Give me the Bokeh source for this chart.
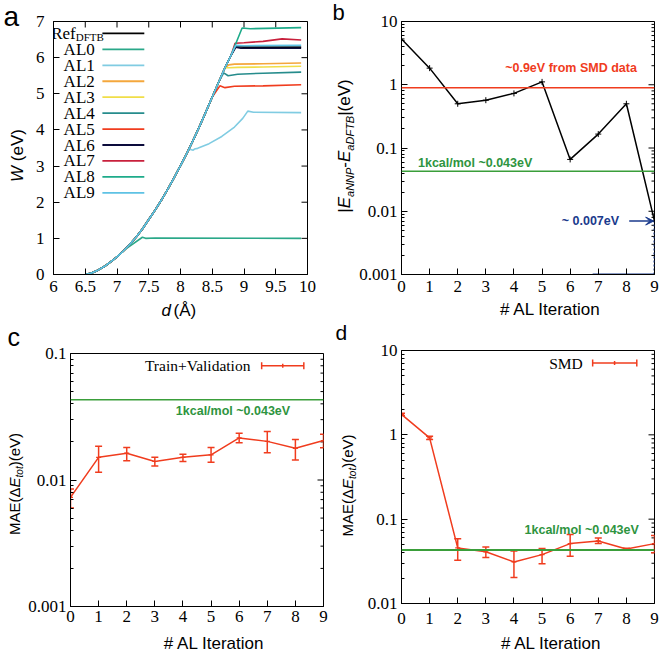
import math
from bokeh.plotting import figure
from bokeh.models import (Range1d, Label, Arrow, VeeHead, FixedTicker,
                          CustomJSTickFormatter, Span)
from bokeh.layouts import row, column
from bokeh.embed import file_html
from bokeh.resources import INLINE

# ---------------- data ----------------
# Panel a: shared rising part of the W(d) curves
REF_D = [6.50, 6.60, 6.70, 6.80, 6.90, 7.00, 7.10, 7.20, 7.30, 7.40, 7.50, 7.60,
         7.70, 7.80, 7.90, 8.00, 8.10, 8.20, 8.30, 8.40, 8.50, 8.60, 8.70, 8.80, 8.87]
REF_W = [0.00, 0.04, 0.12, 0.22, 0.35, 0.49, 0.65, 0.83, 1.03, 1.26, 1.52, 1.78,
         2.06, 2.36, 2.68, 3.01, 3.35, 3.72, 4.10, 4.50, 4.91, 5.32, 5.72, 6.08, 6.30]
SERIES_NAMES = ["Ref", "AL0", "AL1", "AL2", "AL3", "AL4", "AL5", "AL6", "AL7", "AL8", "AL9"]
SERIES_COLORS = ["#000000", "#2aa889", "#80cce2", "#f4a73c", "#f0de48", "#268c8c",
                 "#f03c1e", "#0c0c3c", "#c8203c", "#1eab8a", "#5ec2e4"]
SERIES_CUT = [8.87, 7.10, 8.10, 8.70, 8.70, 8.60, 8.50, 8.80, 8.80, 8.80, 8.80]
TAIL_D = [
    [9.00, 9.90],
    [7.14, 7.40, 7.45, 7.60, 9.90],
    [8.13, 8.20, 8.22, 8.27, 8.45, 8.65, 8.85, 8.98, 9.06, 9.15, 9.90],
    [8.76, 8.85, 9.30, 9.90],
    [8.77, 8.90, 9.30, 9.90],
    [8.68, 8.75, 8.90, 9.30, 9.90],
    [8.62, 8.70, 8.85, 9.30, 9.90],
    [8.87, 8.95, 9.90],
    [8.86, 9.00, 9.30, 9.60, 9.90],
    [8.97, 9.10, 9.90],
    [8.87, 9.00, 9.90],
]
TAIL_W = [
    [6.29, 6.29],
    [0.71, 1.03, 1.00, 1.01, 1.00],
    [3.47, 3.44, 3.47, 3.49, 3.62, 3.82, 4.08, 4.32, 4.52, 4.49, 4.48],
    [5.80, 5.82, 5.83, 5.85],
    [5.72, 5.73, 5.74, 5.76],
    [5.58, 5.50, 5.54, 5.57, 5.60],
    [5.22, 5.17, 5.21, 5.22, 5.25],
    [6.29, 6.26, 6.26],
    [6.40, 6.41, 6.45, 6.52, 6.49],
    [6.82, 6.80, 6.83],
    [6.34, 6.33, 6.34],
]

# Panel b
ITER = [0, 1, 2, 3, 4, 5, 6, 7, 8, 9]
B_ERR = [5.3, 1.83, 0.50, 0.57, 0.73, 1.11, 0.066, 0.166, 0.50, 0.0070]
B_SMD_LEVEL = 0.9
KCAL_LEVEL = 0.043
B_FINAL = 0.007

# Panel c
C_MAE = [0.0073, 0.0151, 0.0163, 0.0140, 0.0151, 0.0158, 0.0215, 0.0202, 0.0178, 0.0205]
C_LO = [0.0060, 0.0115, 0.0142, 0.0129, 0.0140, 0.0138, 0.0197, 0.0164, 0.0144, 0.0180]
C_HI = [0.0085, 0.0185, 0.0181, 0.0151, 0.0160, 0.0181, 0.0234, 0.0242, 0.0209, 0.0230]

# Panel d
D_MAE = [1.75, 0.92, 0.0456, 0.0410, 0.0311, 0.0380, 0.0513, 0.0552, 0.0444, 0.0513]
D_LO = [1.70, 0.88, 0.0326, 0.0351, 0.0203, 0.0297, 0.0363, 0.0513, 0.0435, 0.0400]
D_HI = [1.80, 0.96, 0.0587, 0.0468, 0.0420, 0.0450, 0.0656, 0.0598, 0.0453, 0.0640]

A_XTICKS = [6, 6.5, 7, 7.5, 8, 8.5, 9, 9.5, 10]
A_YTICKS = [0, 1, 2, 3, 4, 5, 6, 7]

# ---------------- style ----------------
SANS = "Liberation Sans"
SERIF = "Liberation Serif"
RED = "#f03c1e"
GREEN_LINE = "#3a9e3a"
GREEN_TXT = "#2e9440"
NAVY = "#1a3a8c"
MID = 0.3465   # (ascent - descent) / 2 of Liberation Sans, in em

W_EM = {' ': 0.278, '#': 0.556, '(': 0.333, ')': 0.333, '-': 0.333, '|': 0.26,
        'A': 0.667, 'B': 0.667, 'D': 0.722, 'E': 0.667, 'F': 0.611, 'I': 0.278,
        'L': 0.556, 'M': 0.833, 'N': 0.722, 'P': 0.667, 'T': 0.611, 'V': 0.667,
        'W': 0.944, 'Å': 0.667, 'Δ': 0.668, 'a': 0.556, 'd': 0.556, 'e': 0.556,
        'i': 0.222, 'n': 0.556, 'o': 0.556, 'r': 0.333, 't': 0.278}


def twidth(s, size):
    return sum(W_EM.get(ch, 0.556) for ch in s) * size


def rich(p, pieces, cx, cy, rotated=False):
    """pieces: (text, size, style, down_shift); (cx, cy): centre of the baseline, strip px."""
    total = sum(twidth(t, sz) for t, sz, st, sh in pieces)
    pos = -total / 2.0
    for t, sz, st, sh in pieces:
        lead = len(t) - len(t.lstrip(" "))
        pos += twidth(" " * lead, sz)
        t = t.lstrip(" ")
        up = MID * sz - sh
        if rotated:
            x, y, ang = cx - up, cy + pos, math.pi / 2
        else:
            x, y, ang = cx + pos, cy + up, 0
        p.add_layout(Label(x=x, y=y, text=t, angle=ang, text_font=SANS,
                           text_font_size=f"{sz}px", text_font_style=st,
                           text_color="black", text_align="left",
                           text_baseline="middle"))
        pos += twidth(t, sz)


def strip(w, h):
    """blank canvas whose frame is the whole area, used for axis titles / panel letters"""
    s = figure(width=w, height=h, x_range=Range1d(0, w), y_range=Range1d(0, h),
               x_axis_type=None, y_axis_type=None, min_border=0, title=None,
               toolbar_location=None, tools="", output_backend="svg")
    s.outline_line_color = None
    s.background_fill_color = "white"
    s.border_fill_color = "white"
    return s


def letter(s, txt, x, y, size):
    s.add_layout(Label(x=x, y=y + MID * size, text=txt, text_font=SANS,
                       text_font_size=f"{size}px", text_color="black",
                       text_baseline="middle"))


def style_axis(ax, ticks, minor=None, standoff=8, fmt=None):
    ax.ticker = FixedTicker(ticks=ticks, minor_ticks=minor or [])
    if fmt is not None:
        ax.formatter = fmt
    ax.axis_line_color = "black"
    ax.major_tick_line_color = "black"
    ax.minor_tick_line_color = "black"
    ax.major_tick_in = 6
    ax.major_tick_out = 0
    ax.minor_tick_in = 3
    ax.minor_tick_out = 0
    ax.axis_label = None
    ax.major_label_text_font = SERIF
    ax.major_label_text_color = "black"
    ax.major_label_text_font_size = "17px"
    ax.major_label_standoff = standoff


def mirror_ticks(p, positions, edge, along, size):
    """inward tick marks on the opposite frame edge (outer half of each dash is clipped)"""
    if along == "y":
        p.scatter([edge] * len(positions), positions, marker="dash", size=size,
                  line_color="black", line_width=1)
    else:
        p.scatter(positions, [edge] * len(positions), marker="dash", angle=math.pi / 2,
                  size=size, line_color="black", line_width=1)


def make_fig(xr, yr, ylog, fw, fh, bl, br, bt, bb):
    p = figure(x_range=Range1d(*xr), y_range=Range1d(*yr),
               y_axis_type="log" if ylog else "linear", title=None,
               frame_width=fw, frame_height=fh,
               min_border_left=bl, min_border_right=br,
               min_border_top=bt, min_border_bottom=bb,
               output_backend="svg", toolbar_location=None, tools="")
    p.xgrid.visible = False
    p.ygrid.visible = False
    p.outline_line_color = "black"
    p.outline_line_alpha = 1.0
    p.background_fill_color = "white"
    p.border_fill_color = "white"
    return p


LOGFMT = CustomJSTickFormatter(code="return parseFloat(tick.toPrecision(6)).toString();")


def log_ticks(lo_e, hi_e):
    major = [10.0 ** e for e in range(lo_e, hi_e + 1)]
    minor = [m * 10.0 ** e for e in range(lo_e, hi_e) for m in range(2, 10)]
    return major, minor


# ---------------- panel a ----------------
pa = make_fig((6, 10), (0, 7), False, 254, 253, 23, 23, 21, 25)
style_axis(pa.xaxis[0], A_XTICKS, standoff=6)
style_axis(pa.yaxis[0], A_YTICKS, standoff=9)
mirror_ticks(pa, A_XTICKS, 7, "x", 12)
mirror_ticks(pa, A_YTICKS, 10, "y", 12)

for name, col, cut, td, tw in zip(SERIES_NAMES, SERIES_COLORS, SERIES_CUT, TAIL_D, TAIL_W):
    xs = [d for d in REF_D if d <= cut] + td
    ys = [w for d, w in zip(REF_D, REF_W) if d <= cut] + tw
    pa.line(xs, ys, line_color=col, line_width=1.6)

# legend (gnuplot style: label then sample line)
LEG_Y0, LEG_DY = 6.67, 0.441
for i, (name, col) in enumerate(zip(SERIES_NAMES, SERIES_COLORS)):
    yy = LEG_Y0 - i * LEG_DY
    pa.segment(x0=[6.77], y0=[yy], x1=[7.43], y1=[yy], line_color=col, line_width=1.8)
    if name == "Ref":
        pa.add_layout(Label(x=6.35, y=yy, text="Ref", text_font=SERIF, text_font_size="17px",
                            text_align="right", text_baseline="middle", text_color="black"))
        pa.add_layout(Label(x=6.35, y=yy, y_offset=-4, text="DFTB", text_font=SERIF,
                            text_font_size="11px", text_align="left", text_baseline="middle",
                            text_color="black"))
    else:
        pa.add_layout(Label(x=6.65, y=yy, text=name, text_font=SERIF, text_font_size="17px",
                            text_align="right", text_baseline="middle", text_color="black"))

sa = strip(30, 320)
letter(sa, "a", 3, 294.5, 28)
rich(sa, [("W", 17, "italic", 0), (" (eV)", 17, "normal", 0)], 23, 165, rotated=True)
xa = strip(300, 21)
rich(xa, [("d", 17, "italic", 0), (" (Å)", 17, "normal", 0)], 146, 4)

# ---------------- panel b ----------------
pb = make_fig((0, 9), (0.001, 10), True, 253, 253, 43, 8, 21, 25)
mj, mn = log_ticks(-3, 1)
style_axis(pb.xaxis[0], ITER, standoff=6)
style_axis(pb.yaxis[0], mj, mn, standoff=4, fmt=LOGFMT)
mirror_ticks(pb, mj, 9, "y", 12)
mirror_ticks(pb, mn, 9, "y", 6)

pb.add_layout(Span(location=B_SMD_LEVEL, dimension="width", line_color=RED, line_width=1.5))
pb.add_layout(Span(location=KCAL_LEVEL, dimension="width", line_color=GREEN_LINE, line_width=1.5))
pb.line([6.8, 9], [0.001, 0.001], line_color=NAVY, line_width=2)
pb.line([9, 9], [0.001, B_FINAL], line_color=NAVY, line_width=2, line_dash="2 2")
pb.line(ITER, B_ERR, line_color="black", line_width=1.5)
pb.scatter(ITER, B_ERR, marker="cross", size=6, line_color="black", line_width=1)
pb.add_layout(Arrow(end=VeeHead(size=8, fill_color=NAVY, line_color=NAVY),
                    x_start=8.1, y_start=B_FINAL, x_end=8.97, y_end=B_FINAL,
                    line_color=NAVY, line_width=1.5))
pb.add_layout(Label(x=6.03, y=1.86, text="~0.9eV from SMD data", text_font=SANS,
                    text_font_style="bold", text_font_size="12.5px", text_color=RED,
                    text_align="center", text_baseline="middle"))
pb.add_layout(Label(x=2.62, y=0.057, text="1kcal/mol ~0.043eV", text_font=SANS,
                    text_font_style="bold", text_font_size="12.5px", text_color=GREEN_TXT,
                    text_align="center", text_baseline="middle"))
pb.add_layout(Label(x=6.72, y=B_FINAL, text="~ 0.007eV", text_font=SANS,
                    text_font_style="bold", text_font_size="12.5px", text_color=NAVY,
                    text_align="center", text_baseline="middle"))

sb = strip(26, 320)
letter(sb, "b", 2, 300, 22)
rich(sb, [("|", 17, "normal", 0), ("E", 17, "italic", 0), ("aNNP", 11, "italic", 3.5),
          ("-", 17, "normal", 0), ("E", 17, "italic", 0), ("aDFTB", 11, "italic", 3.5),
          ("|(eV)", 17, "normal", 0)], 19.5, 174.5, rotated=True)
xb = strip(304, 21)
rich(xb, [("# AL Iteration", 17, "normal", 0)], 170, 5)

# ---------------- panel c ----------------
pc = make_fig((0, 9), (0.001, 0.1), True, 253, 253, 43, 9, 33, 26)
mj, mn = log_ticks(-3, -1)
style_axis(pc.xaxis[0], ITER, standoff=4)
style_axis(pc.yaxis[0], mj, mn, standoff=4, fmt=LOGFMT)
mirror_ticks(pc, mj, 9, "y", 12)
mirror_ticks(pc, mn, 9, "y", 6)

pc.add_layout(Span(location=KCAL_LEVEL, dimension="width", line_color=GREEN_LINE, line_width=1.5))
pc.segment(x0=ITER, y0=C_LO, x1=ITER, y1=C_HI, line_color=RED, line_width=1.5)
pc.scatter(ITER, C_LO, marker="dash", size=7, line_color=RED, line_width=1.5)
pc.scatter(ITER, C_HI, marker="dash", size=7, line_color=RED, line_width=1.5)
pc.line(ITER, C_MAE, line_color=RED, line_width=1.5)
pc.scatter(ITER, C_MAE, marker="dash", size=5, line_color=RED, line_width=1.2)
pc.add_layout(Label(x=5.78, y=0.0348, text="1kcal/mol ~0.043eV", text_font=SANS,
                    text_font_style="bold", text_font_size="12.5px", text_color=GREEN_TXT,
                    text_align="center", text_baseline="middle"))
# legend
pc.add_layout(Label(x=6.4, y=0.08, text="Train+Validation", text_font=SERIF,
                    text_font_size="15.5px", text_color="black", text_align="right",
                    text_baseline="middle"))
pc.segment(x0=[6.8], y0=[0.08], x1=[8.3], y1=[0.08], line_color=RED, line_width=1.5)
pc.scatter([6.8, 8.3], [0.08, 0.08], marker="dash", angle=math.pi / 2, size=7,
           line_color=RED, line_width=1.5)
pc.scatter([7.55], [0.08], marker="dash", angle=math.pi / 2, size=4, line_color=RED, line_width=1.5)

sc = strip(25, 333)
letter(sc, "c", 7, 308, 25)
rich(sc, [("MAE(Δ", 15, "normal", 0), ("E", 15, "italic", 0), ("tot", 10, "italic", 3),
          (")(eV)", 15, "normal", 0)], 19, 169.5, rotated=True)
xc = strip(305, 21)
rich(xc, [("# AL Iteration", 17, "normal", 0)], 164, 4)

# ---------------- panel d ----------------
pd_ = make_fig((0, 9), (0.01, 10), True, 253, 253, 43, 8, 30, 30)
mj, mn = log_ticks(-2, 1)
style_axis(pd_.xaxis[0], ITER, standoff=9)
style_axis(pd_.yaxis[0], mj, mn, standoff=4, fmt=LOGFMT)
mirror_ticks(pd_, mj, 9, "y", 12)
mirror_ticks(pd_, mn, 9, "y", 6)

pd_.add_layout(Span(location=KCAL_LEVEL, dimension="width", line_color=GREEN_LINE, line_width=2))
pd_.segment(x0=ITER, y0=D_LO, x1=ITER, y1=D_HI, line_color=RED, line_width=1.5)
pd_.scatter(ITER, D_LO, marker="dash", size=7, line_color=RED, line_width=1.5)
pd_.scatter(ITER, D_HI, marker="dash", size=7, line_color=RED, line_width=1.5)
pd_.line(ITER, D_MAE, line_color=RED, line_width=1.5)
pd_.scatter(ITER, D_MAE, marker="dash", size=5, line_color=RED, line_width=1.2)
pd_.add_layout(Label(x=6.41, y=0.074, text="1kcal/mol ~0.043eV", text_font=SANS,
                     text_font_style="bold", text_font_size="12.5px", text_color=GREEN_TXT,
                     text_align="center", text_baseline="middle"))
pd_.add_layout(Label(x=6.45, y=7.1, text="SMD", text_font=SERIF,
                     text_font_size="15.5px", text_color="black", text_align="right",
                     text_baseline="middle"))
pd_.segment(x0=[6.8], y0=[7.1], x1=[8.37], y1=[7.1], line_color=RED, line_width=1.5)
pd_.scatter([6.8, 8.37], [7.1, 7.1], marker="dash", angle=math.pi / 2, size=7,
            line_color=RED, line_width=1.5)
pd_.scatter([7.58], [7.1], marker="dash", angle=math.pi / 2, size=4, line_color=RED, line_width=1.5)

sd = strip(26, 333)
letter(sd, "d", 3, 313.5, 21)
rich(sd, [("MAE(Δ", 15, "normal", 0), ("E", 15, "italic", 0), ("tot", 10, "italic", 3),
          (")(eV)", 15, "normal", 0)], 20, 168, rotated=True)
xd = strip(304, 20)
rich(xd, [("# AL Iteration", 17, "normal", 0)], 170, 4)

layout = column(
    row(sa, column(pa, xa), sb, column(pb, xb)),
    row(sc, column(pc, xc), sd, column(pd_, xd)),
)
open("out.html", "w").write(file_html(layout, INLINE))
